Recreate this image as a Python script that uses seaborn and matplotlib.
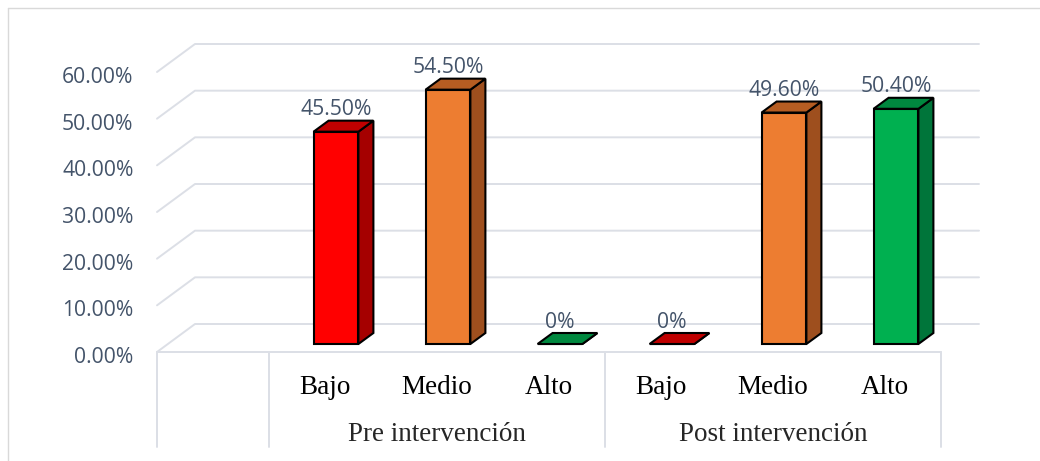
import matplotlib
matplotlib.use('Agg')
import matplotlib.pyplot as plt
import matplotlib.transforms as mtransforms
from matplotlib.patches import Polygon
from matplotlib.lines import Line2D
import numpy as np
import pandas as pd
import seaborn as sns

# Datos
grupos = ['Pre intervención', 'Post intervención']
niveles = ['Bajo', 'Medio', 'Alto']
pre = [45.5, 54.5, 0]
post = [0, 49.6, 50.4]
etiquetas = ['45.50%', '54.50%', '0%', '0%', '49.60%', '50.40%']
yticks = [0, 10, 20, 30, 40, 50, 60]

claves = [g.split()[0] + ' ' + n for g in grupos for n in niveles]
df = pd.DataFrame({'clave': claves, 'nivel': niveles * 2, 'valor': pre + post})
orden = [''] + claves  # primera casilla vacía, como en el original

# frente, lado, arriba
colores = {'Bajo': ('#FF0000', '#A50000', '#C00000'),
           'Medio': ('#ED7D31', '#9E4F1E', '#B65D22'),
           'Alto': ('#00B050', '#00753A', '#00883F')}
texto = '#44546A'
gris = '#DCDFE6'

sns.set_style('white')
plt.rcParams['font.family'] = ['Open Sans', 'DejaVu Sans']

W, H = 1040, 461
fig = plt.figure(figsize=(W / 100, H / 100), dpi=100)
ax = fig.add_axes([157 / W, (H - 352) / H, 784 / W, 280 / H])

paleta = {k: colores[n][0] for k, n in zip(claves, niveles * 2)}
sns.barplot(data=df, x='clave', y='valor', hue='clave', order=orden,
            hue_order=claves, palette=paleta, width=0.4, edgecolor='black',
            linewidth=1.5, legend=False, saturation=1, ax=ax)

ax.set_xlim(-0.5, 6.5)
ax.set_ylim(0, 60)
for s in ax.spines.values():
    s.set_visible(False)
ax.set_xlabel('')
ax.set_ylabel('')

# ejes
ax.set_yticks(yticks)
ax.set_yticklabels([f'{v:.2f}%' for v in yticks], color=texto, fontsize=15.2)
ax.tick_params(axis='y', length=0, pad=17)
bajar = mtransforms.ScaledTranslation(0, -3 / 100, fig.dpi_scale_trans)
for lab in ax.get_yticklabels():
    lab.set_transform(lab.get_transform() + bajar)
ax.set_xticks(range(len(orden)))
ax.set_xticklabels([''] + niveles * 2, family=['Liberation Serif'],
                   fontsize=19.5, color='black')
ax.tick_params(axis='x', length=0, pad=16.5)

ident = mtransforms.IdentityTransform()
fondo = np.array([38, 28])   # profundidad del suelo
shift = np.array([11, 8])    # posición de las barras dentro del suelo
prof = np.array([15, 11])    # profundidad de las barras

# rejilla 3D
for v in yticks:
    a = ax.transData.transform((-0.5, v))
    b = ax.transData.transform((6.5, v))
    ax.plot([a[0], a[0] + fondo[0], b[0] + fondo[0]],
            [a[1], a[1] + fondo[1], b[1] + fondo[1]],
            transform=ident, color=gris, lw=1.4, clip_on=False, zorder=0.5)
a = ax.transData.transform((-0.5, 0))
b = ax.transData.transform((6.5, 0))
ax.plot([a[0], b[0]], [a[1], b[1]], transform=ident, color=gris, lw=1.4,
        clip_on=False, zorder=0.5)

# separadores de categorías
bt = mtransforms.blended_transform_factory(ax.transData, ax.transAxes)
for x in [-0.5, 0.5, 3.5, 6.5]:
    ax.plot([x, x], [0, -0.34], transform=bt, color=gris, lw=1.4,
            clip_on=False)
for i, g in enumerate(grupos):
    ax.text(2 + 3 * i, -0.296, g, transform=bt, ha='center', va='center',
            family=['Liberation Serif'], fontsize=19.5)

# barras en 3D
off = mtransforms.offset_copy(ax.transData, fig=fig, x=shift[0], y=shift[1],
                              units='dots')
for p in list(ax.patches):
    x0, w, h = p.get_x(), p.get_width(), p.get_height()
    idx = int(round(x0 + w / 2))
    nivel = orden[idx].split()[1]
    p.set_transform(off)
    p.set_zorder(3)
    tl = ax.transData.transform((x0, h)) + shift
    tr = ax.transData.transform((x0 + w, h)) + shift
    br = ax.transData.transform((x0 + w, 0)) + shift
    lado = Polygon([br, tr, tr + prof, br + prof], closed=True,
                   facecolor=colores[nivel][1], edgecolor='black', lw=1.5,
                   transform=ident, clip_on=False, zorder=3)
    arriba = Polygon([tl, tr, tr + prof, tl + prof], closed=True,
                     facecolor=colores[nivel][2], edgecolor='black', lw=1.5,
                     transform=ident, clip_on=False, zorder=3)
    ax.add_patch(lado)
    ax.add_patch(arriba)
    ax.annotate(etiquetas[idx - 1], xy=(x0 + w / 2, h),
                xytext=(shift[0], shift[1] + 22), textcoords='offset pixels',
                ha='center', va='center', color=texto, fontsize=15.2)

ax.set_xlim(-0.5, 6.5)
ax.set_ylim(0, 60)

# marco exterior
fig.add_artist(Line2D([8 / W, 8 / W], [0, 1 - 8 / H], color='#D9D9D9', lw=1))
fig.add_artist(Line2D([8 / W, 1], [1 - 8 / H, 1 - 8 / H], color='#D9D9D9', lw=1))

fig.savefig('out.png', dpi=100)
